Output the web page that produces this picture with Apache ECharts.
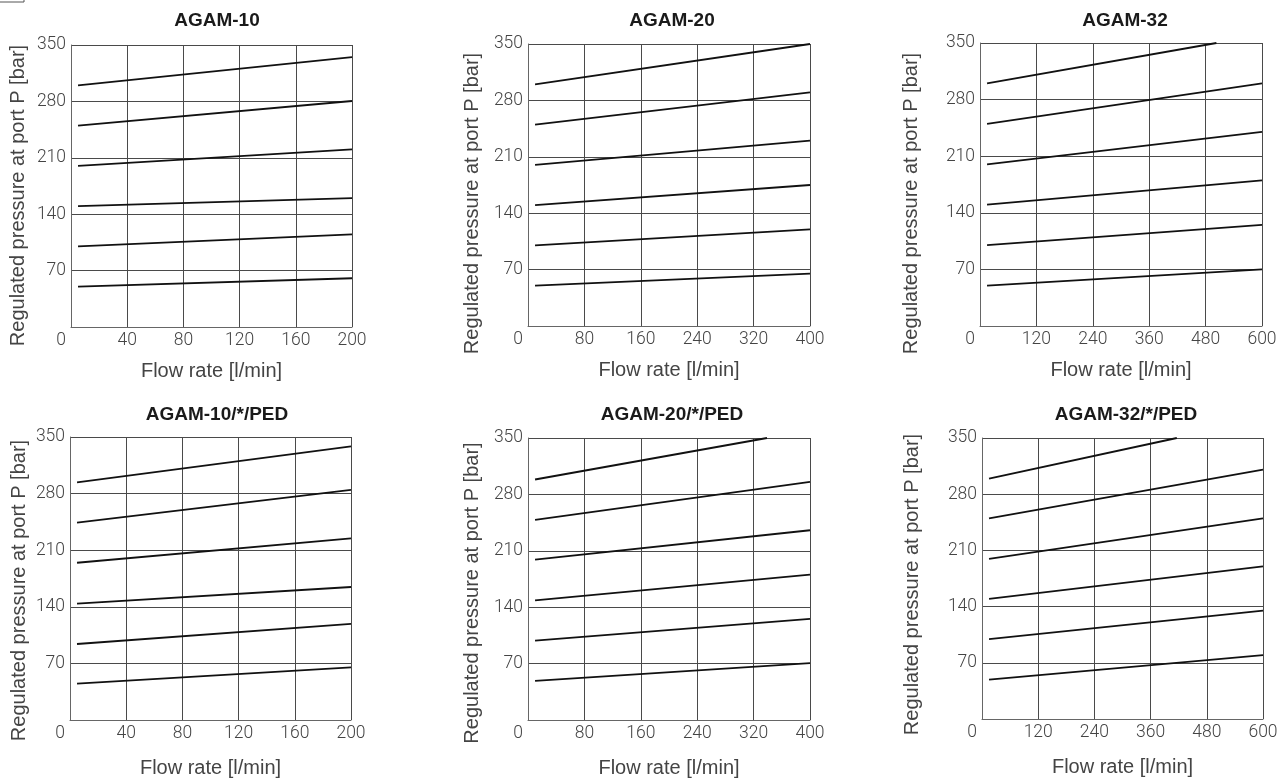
<!DOCTYPE html>
<html>
<head>
<meta charset="utf-8">
<script src="https://cdn.jsdelivr.net/npm/echarts@6/dist/echarts.min.js"></script>
<style>
html,body{margin:0;padding:0;background:#fff;}
#chart{width:1287px;height:780px;}
</style>
</head>
<body>
<div id="chart"></div>
<script>
// ---- Data ----
const titles = ['AGAM-10', 'AGAM-20', 'AGAM-32', 'AGAM-10/*/PED', 'AGAM-20/*/PED', 'AGAM-32/*/PED'];
const xMax = [200, 400, 600, 200, 400, 600];
const xStep = [40, 80, 120, 40, 80, 120];
const yMax = 350;
const yStep = 70;
const xName = 'Flow rate [l/min]';
const yName = 'Regulated pressure at port P [bar]';

// curves: each [[flowStart, pStart], [flowEnd, pEnd]]
const agam10 = [
  [[5, 300], [200, 335]],
  [[5, 250], [200, 280.5]],
  [[5, 200], [200, 220.5]],
  [[5, 150], [200, 160]],
  [[5, 100], [200, 115]],
  [[5, 50], [200, 60.5]]
];
const agam20 = [
  [[10, 300], [400, 350]],
  [[10, 250], [400, 290]],
  [[10, 200], [400, 230]],
  [[10, 150], [400, 175]],
  [[10, 100], [400, 120]],
  [[10, 50], [400, 65]]
];
const agam32 = [
  [[15, 300], [503, 350]],
  [[15, 250], [600, 300]],
  [[15, 200], [600, 240]],
  [[15, 150], [600, 180]],
  [[15, 100], [600, 125]],
  [[15, 50], [600, 70]]
];
const agam10ped = [
  [[5, 294], [200, 338.5]],
  [[5, 244], [200, 284.5]],
  [[5, 194.5], [200, 224.5]],
  [[5, 144], [200, 164.5]],
  [[5, 94], [200, 119]],
  [[5, 45], [200, 65]]
];
const agam20ped = [
  [[10, 298.5], [339, 350]],
  [[10, 248.5], [400, 295.5]],
  [[10, 199], [400, 235.5]],
  [[10, 148.5], [400, 180.5]],
  [[10, 98.5], [400, 125.5]],
  [[10, 48.5], [400, 70.5]]
];
const agam32ped = [
  [[15, 299.5], [416, 350]],
  [[15, 250], [600, 310.5]],
  [[15, 199.5], [600, 250]],
  [[15, 149.5], [600, 190]],
  [[15, 99.5], [600, 135]],
  [[15, 49], [600, 79.5]]
];
const allCurves = [agam10, agam20, agam32, agam10ped, agam20ped, agam32ped];

// ---- Layout ----
const grids = [
  {left: 71, top: 45, width: 281, height: 282},
  {left: 528, top: 44, width: 282, height: 282},
  {left: 980, top: 43, width: 282, height: 283},
  {left: 70, top: 437, width: 281, height: 283},
  {left: 528, top: 438, width: 282, height: 282},
  {left: 982, top: 438, width: 281, height: 281}
];
const titlePos = [[212, 6], [667, 6], [1120, 6], [212, 400], [667, 400], [1121, 400]];
const xNameGap = [34, 34, 34, 38, 38, 38];
const yNameGap = [43, 46, 59, 41, 46, 60];
const yNameShift = [9.5, 18.5, 19, 12, 14, 6];

const tickFont = {fontFamily: 'Roboto', fontWeight: 300, fontSize: 17.5, color: '#444'};
const nameFont = {fontFamily: 'Liberation Sans, Arial, sans-serif', fontSize: 20, color: '#444'};

const option = {
  animation: false,
  backgroundColor: '#fff',
  title: titles.map((t, i) => ({
    text: t,
    left: titlePos[i][0],
    top: titlePos[i][1],
    textAlign: 'center',
    textStyle: {fontFamily: 'Liberation Sans, Arial, sans-serif', fontWeight: 'bold', fontSize: 19, color: '#1a1a1a'}
  })),
  grid: grids.map(g => Object.assign({containLabel: false}, g)),
  xAxis: grids.map((g, i) => ({
    type: 'value',
    gridIndex: i,
    min: 0,
    max: xMax[i],
    interval: xStep[i],
    name: xName,
    nameLocation: 'middle',
    nameGap: xNameGap[i],
    nameTextStyle: nameFont,
    axisLine: {show: true, lineStyle: {color: '#666', width: 1}},
    axisTick: {show: false},
    splitLine: {show: true, lineStyle: {color: '#4a4a4a', width: 1}},
    axisLabel: Object.assign({
      margin: 5,
      formatter: v => v === 0 ? '{z|0}' : String(v),
      rich: {z: {fontFamily: 'Roboto', fontWeight: 300, fontSize: 17.5, color: '#444', padding: [0, 20, 0, 0]}}
    }, tickFont)
  })),
  yAxis: grids.map((g, i) => ({
    type: 'value',
    gridIndex: i,
    min: 0,
    max: yMax,
    interval: yStep,
    name: yName,
    nameLocation: 'middle',
    nameGap: yNameGap[i],
    nameTextStyle: Object.assign({padding: [0, yNameShift[i] * 2, 0, 0]}, nameFont),
    axisLine: {show: true, lineStyle: {color: '#666', width: 1}},
    axisTick: {show: false},
    splitLine: {show: true, lineStyle: {color: '#4a4a4a', width: 1}},
    axisLabel: Object.assign({
      margin: 5,
      showMinLabel: false
    }, tickFont)
  })),
  graphic: [{
    type: 'polyline',
    shape: {points: [[0, 2], [24, 2], [24, 0]]},
    style: {stroke: '#555', lineWidth: 1, fill: null}
  }],
  series: []
};

allCurves.forEach((curves, i) => {
  curves.forEach(c => {
    option.series.push({
      type: 'line',
      xAxisIndex: i,
      yAxisIndex: i,
      data: c,
      symbol: 'none',
      lineStyle: {color: '#111', width: 1.8},
      silent: true
    });
  });
});

const chart = echarts.init(document.getElementById('chart'));
chart.setOption(option);
</script>
</body>
</html>
